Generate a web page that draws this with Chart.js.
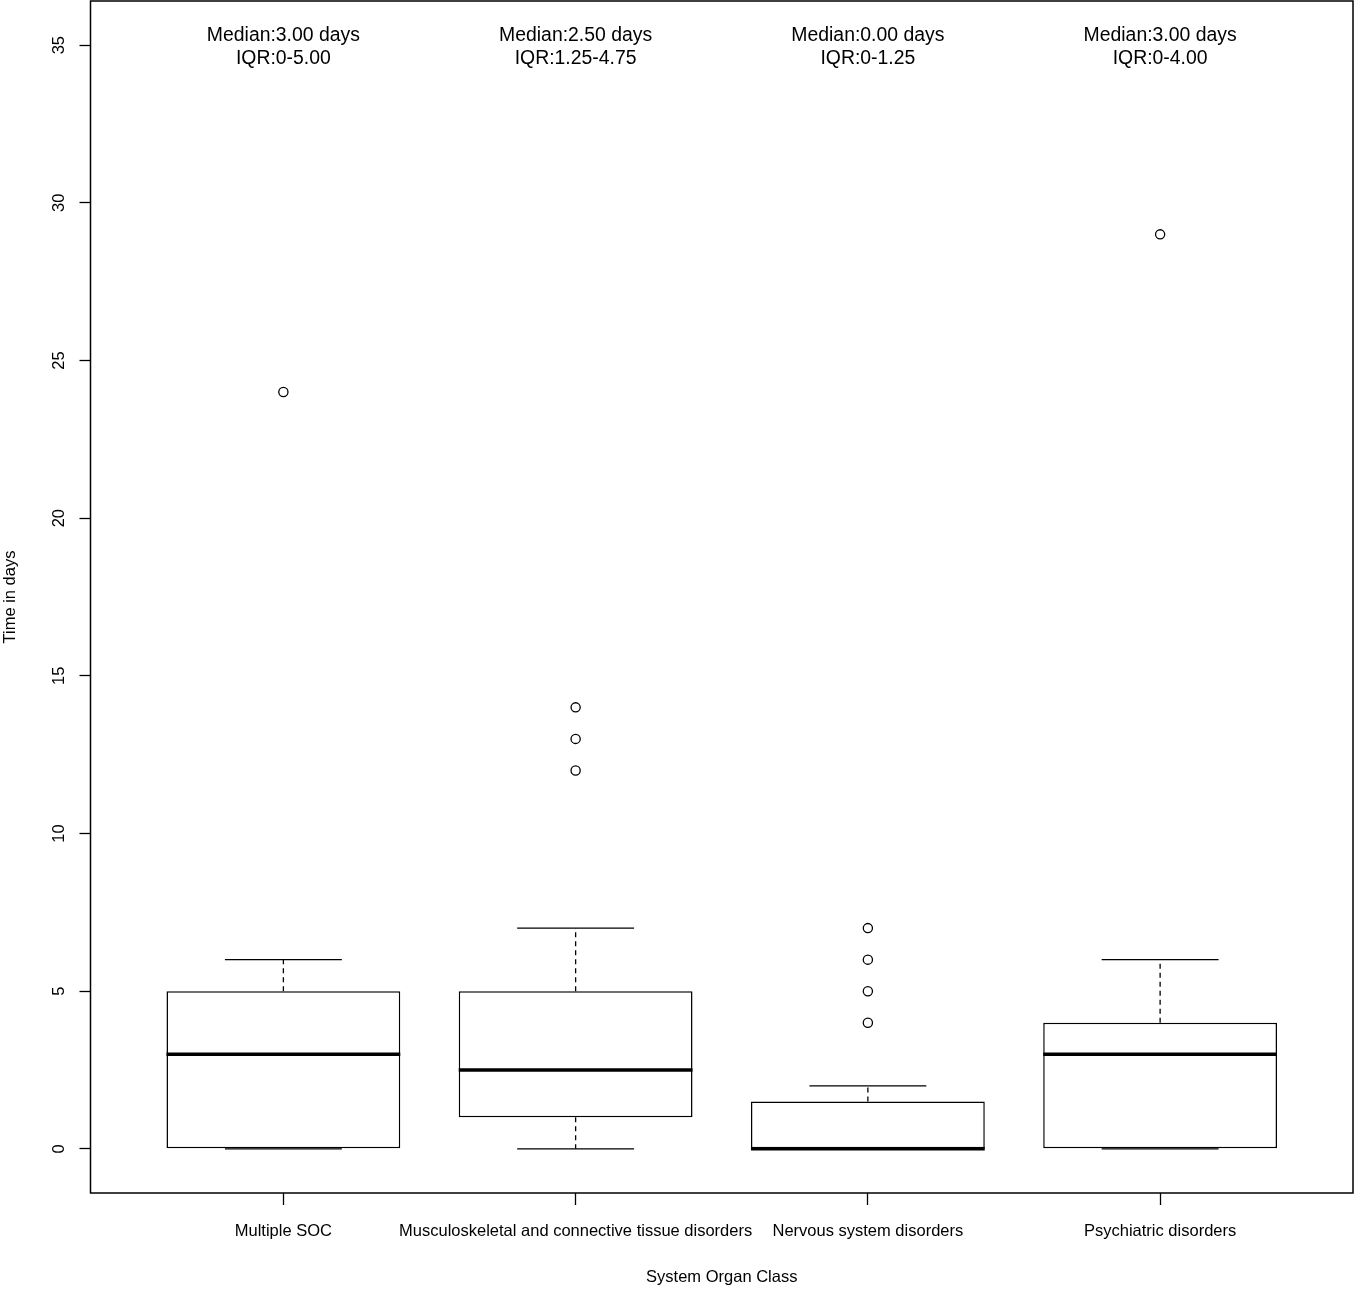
<!DOCTYPE html>
<html>
<head>
  <title>Time in days by System Organ Class</title>
  <script src="https://cdn.jsdelivr.net/npm/chart.js"></script>
  <style>
    body { margin: 0; background: #fff; }
    #wrap { width: 1358px; height: 1291px; }
  </style>
</head>
<body>
  <div id="wrap"><canvas id="boxChart"></canvas></div>

  <script>
    // boxplot summary
    const categories = ['Multiple SOC', 'Musculoskeletal and connective tissue disorders', 'Nervous system disorders', 'Psychiatric disorders'];
    const whiskerLow = [0, 0, 0, 0];
    const lowerHinge = [0, 1, 0, 0];
    const medians = [3, 2.5, 0, 3];
    const upperHinge = [5, 5, 1.5, 4];
    const whiskerHigh = [6, 7, 2, 6];
    const outliers = [[24], [12, 13, 14], [4, 5, 6, 7], [29]];
    const medianText = ['Median:3.00 days', 'Median:2.50 days', 'Median:0.00 days', 'Median:3.00 days'];
    const iqrText = ['IQR:0-5.00', 'IQR:1.25-4.75', 'IQR:0-1.25', 'IQR:0-4.00'];
    const textAt = 35;
    const yTicks = [0, 5, 10, 15, 20, 25, 30, 35];

    const FONT = '"Liberation Sans", Arial, Helvetica, sans-serif';

    const boxData = categories.map((c, i) => ({ x: i + 1, y: [lowerHinge[i], upperHinge[i]] }));
    const outlierData = [];
    outliers.forEach((list, i) => list.forEach(v => outlierData.push({ x: i + 1, y: v })));

    // frame, medians, whiskers and the two-line notes above each box
    const boxExtras = {
      id: 'boxExtras',
      afterDatasetsDraw(chart) {
        const ctx = chart.ctx;
        const x = chart.scales.x, y = chart.scales.y;
        const bars = chart.getDatasetMeta(0).data;
        const a = chart.chartArea;
        ctx.save();
        ctx.strokeStyle = '#000';

        categories.forEach((c, i) => {
          const cx = x.getPixelForValue(i + 1);
          const half = bars[i].width / 2;

          // whiskers
          ctx.lineWidth = 1.3;
          ctx.setLineDash([5, 4]);
          ctx.beginPath();
          ctx.moveTo(cx, y.getPixelForValue(upperHinge[i]));
          ctx.lineTo(cx, y.getPixelForValue(whiskerHigh[i]));
          ctx.moveTo(cx, y.getPixelForValue(lowerHinge[i]));
          ctx.lineTo(cx, y.getPixelForValue(whiskerLow[i]));
          ctx.stroke();
          ctx.setLineDash([]);
          ctx.beginPath();
          ctx.moveTo(cx - half / 2, y.getPixelForValue(whiskerHigh[i]));
          ctx.lineTo(cx + half / 2, y.getPixelForValue(whiskerHigh[i]));
          ctx.moveTo(cx - half / 2, y.getPixelForValue(whiskerLow[i]));
          ctx.lineTo(cx + half / 2, y.getPixelForValue(whiskerLow[i]));
          ctx.stroke();

          // median
          ctx.lineWidth = 3.5;
          ctx.beginPath();
          ctx.moveTo(cx - half, y.getPixelForValue(medians[i]));
          ctx.lineTo(cx + half, y.getPixelForValue(medians[i]));
          ctx.stroke();

          // notes
          const ty = y.getPixelForValue(textAt);
          ctx.fillStyle = '#000';
          ctx.font = '19.4px ' + FONT;
          ctx.textAlign = 'center';
          ctx.textBaseline = 'middle';
          ctx.fillText(medianText[i], cx, ty - 9.5);
          ctx.fillText(iqrText[i], cx, ty + 13.5);
        });

        ctx.lineWidth = 1.5;
        ctx.strokeRect(a.left, a.top, a.right - a.left, a.bottom - a.top);
        ctx.restore();
      }
    };

    const ctx = document.getElementById('boxChart').getContext('2d');
    new Chart(ctx, {
      type: 'bar',
      data: {
        datasets: [{
          type: 'bar',
          data: boxData,
          backgroundColor: '#fff',
          borderColor: '#000',
          borderWidth: 1.5,
          borderSkipped: false,
          categoryPercentage: 1,
          barPercentage: 0.8
        }, {
          type: 'scatter',
          data: outlierData,
          pointStyle: 'circle',
          pointRadius: 4.6,
          pointBorderWidth: 1.3,
          pointBackgroundColor: 'rgba(255,255,255,0)',
          pointBorderColor: '#000'
        }]
      },
      plugins: [boxExtras],
      options: {
        responsive: true,
        maintainAspectRatio: false,
        animation: false,
        layout: { autoPadding: false, padding: { top: 1, right: 5, bottom: 0, left: 0 } },
        plugins: { legend: { display: false }, tooltip: { enabled: false } },
        scales: {
          x: {
            type: 'linear',
            min: 0.34,
            max: 4.66,
            offset: false,
            afterBuildTicks: s => { s.ticks = categories.map((c, i) => ({ value: i + 1 })); },
            afterFit: s => { s.height = 98; s.paddingLeft = 0; s.paddingRight = 0; },
            border: { display: false },
            grid: { offset: false, drawOnChartArea: false, tickLength: 12, tickColor: '#000', tickWidth: 1.3 },
            ticks: {
              color: '#000',
              font: { family: FONT, size: 16.5 },
              padding: 16.5,
              maxRotation: 0,
              autoSkip: false,
              callback: v => categories[v - 1]
            },
            title: {
              display: true,
              text: 'System Organ Class',
              color: '#000',
              font: { family: FONT, size: 16.5 },
              padding: { top: 0, bottom: 4 }
            }
          },
          y: {
            min: -1.4,
            max: 36.4,
            afterBuildTicks: s => { s.ticks = yTicks.map(v => ({ value: v })); },
            afterFit: s => { s.width = 90.5; s.paddingTop = 0; s.paddingBottom = 0; },
            border: { display: false },
            grid: { drawOnChartArea: false, tickLength: 11, tickColor: '#000', tickWidth: 1.3 },
            ticks: {
              color: '#000',
              font: { family: FONT, size: 16.5 },
              minRotation: 90,
              maxRotation: 90,
              crossAlign: 'center',
              padding: 11
            },
            title: {
              display: true,
              text: 'Time in days',
              color: '#000',
              font: { family: FONT, size: 16.5 },
              padding: { top: 0.6, bottom: 0 }
            }
          }
        }
      }
    });
  </script>
</body>
</html>
